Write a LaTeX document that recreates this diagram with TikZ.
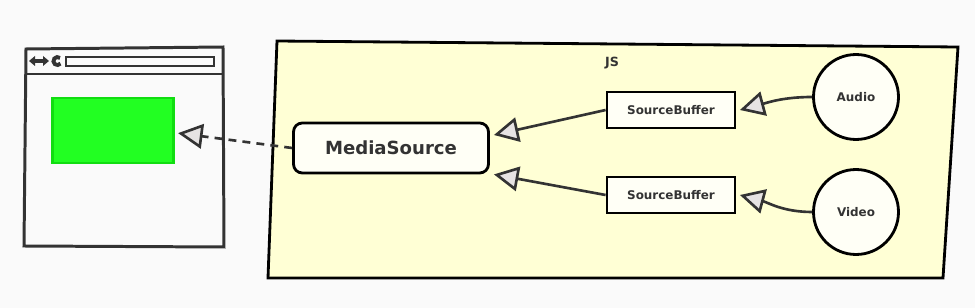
\documentclass[tikz,border=0pt]{standalone}
\usepackage{fontspec}
\setmainfont{DejaVu Sans}
\usetikzlibrary{positioning, arrows.meta, calc}
\definecolor{ink}{HTML}{333333}
\definecolor{paper}{HTML}{FAFAFA}
\definecolor{jsfill}{HTML}{FFFFD5}
\definecolor{boxfill}{HTML}{FFFFF6}
\definecolor{headfill}{HTML}{E6E3E3}
\definecolor{screen}{HTML}{22FF22}
\definecolor{screenline}{HTML}{11DD11}

\begin{document}
\begin{tikzpicture}[x=0.02cm, y=0.02cm,
	msbox/.style={draw=black, line width=1.6pt, rounded corners=5pt, fill=boxfill, text=ink,
		font=\bfseries\fontsize{10.3}{12}\selectfont, minimum width=3.9cm, minimum height=1cm},
	bufbox/.style={draw=black, line width=1.6pt, fill=boxfill, text=ink,
		font=\bfseries\fontsize{6.8}{8}\selectfont, minimum width=2.56cm, minimum height=0.72cm},
	srccirc/.style={circle, draw=black, line width=1.6pt, fill=boxfill, text=ink,
		font=\bfseries\fontsize{6.8}{8}\selectfont, minimum size=1.7cm},
	flow/.style={draw=ink, line width=1.5pt, -{Triangle[length=14pt, width=14pt, fill=headfill]}}]
	\useasboundingbox[fill=paper] (0,0) rectangle (975,308);
	% browser window
	\draw[ink, line width=1.7pt, fill=paper] (26,259) -- (223,261) -- (224,61) -- (24,62) -- cycle;
	\draw[ink, line width=1.7pt] (25,234) -- (224,234);
	\draw[ink, line width=1.4pt] (66,251) rectangle (214,242);
	\fill[ink] (29,247) -- (35,252) -- (35,242) -- cycle;
	\fill[ink] (49,247) -- (43,252) -- (43,242) -- cycle;
	\draw[ink, line width=2pt] (34,247) -- (44,247);
	\draw[ink, line width=2.2pt] (60,250) arc[start angle=50, end angle=320, radius=4];
	\node[draw=screenline, line width=1.2pt, fill=screen, minimum width=2.42cm, minimum height=1.3cm,
		inner sep=0pt] (view) at (113,177.5) {};
	% js area
	\draw[black, line width=1.6pt, fill=jsfill] (277,267) -- (958,261) -- (943,30) -- (268,30) -- cycle;
	\node[text=ink, font=\bfseries\fontsize{7.2}{8}\selectfont] (js) at (612,245) {JS};
	\node[msbox] (ms) at (391,160) {MediaSource};
	\node[bufbox] (sb1) at (671,198) {SourceBuffer};
	\node[bufbox] (sb2) at (671,113) {SourceBuffer};
	\node[srccirc] (aud) at (856,211) {Audio};
	\node[srccirc] (vid) at (856,96) {Video};
	\draw[flow] (aud.west) to[out=180, in=15] ([xshift=2pt]sb1.east);
	\draw[flow] (vid.west) to[out=180, in=-15] ([xshift=2pt]sb2.east);
	\draw[flow] (sb1.west) -- ([xshift=2.3pt, yshift=7.4pt]ms.east);
	\draw[flow] (sb2.west) -- ([xshift=2.3pt]ms.south east);
	\draw[flow, dash pattern=on 4.5pt off 3.5pt] (ms.west) -- ([xshift=2pt, yshift=-1.5pt]view.east);
\end{tikzpicture}
\end{document}
